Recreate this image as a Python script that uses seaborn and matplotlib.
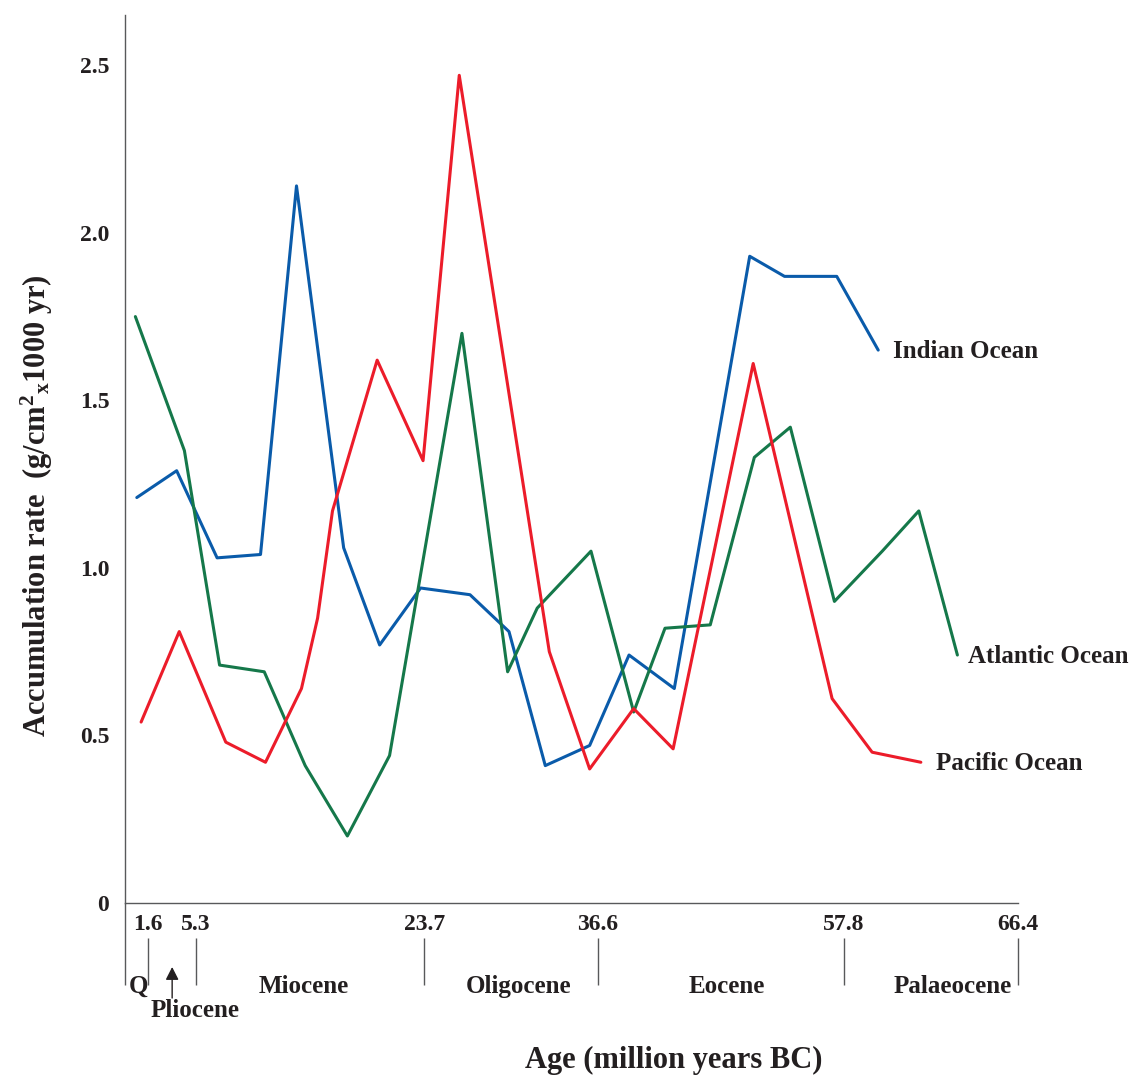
import numpy as np
import pandas as pd
import matplotlib
matplotlib.use("Agg")
import matplotlib.pyplot as plt
import seaborn as sns

# ---- data -------------------------------------------------------------
# Epoch boundaries (million years) and the stretched time scale used on the axis
boundaries = [0.0, 1.6, 5.3, 23.7, 36.6, 57.8, 66.4]
boundary_pos = [0.0, 23.0, 70.7, 299.0, 472.4, 718.4, 893.0]
tick_ages = [1.6, 5.3, 23.7, 36.6, 57.8, 66.4]
tick_labels = ["1.6", "5.3", "23.7", "36.6", "57.8", "66.4"]

y_ticks = [0, 0.5, 1.0, 1.5, 2.0, 2.5]
y_tick_labels = ["0", "0.5", "1.0", "1.5", "2.0", "2.5"]

indian_age = [0.8, 3.8, 7.0, 10.5, 13.4, 17.2, 20.1, 23.4, 27.1, 30.0,
              32.7, 36.0, 39.3, 43.2, 49.7, 52.7, 57.2, 59.5]
indian_rate = [1.21, 1.29, 1.03, 1.04, 2.14, 1.06, 0.77, 0.94, 0.92, 0.81,
               0.41, 0.47, 0.74, 0.64, 1.93, 1.87, 1.87, 1.65]

atlantic_age = [0.7, 4.4, 7.2, 10.8, 14.1, 17.5, 20.9, 26.5, 29.9, 32.1,
                36.1, 39.7, 42.4, 46.3, 50.1, 53.2, 57.0, 59.7, 61.5, 63.4]
atlantic_rate = [1.75, 1.35, 0.71, 0.69, 0.41, 0.20, 0.44, 1.70, 0.69, 0.88,
                 1.05, 0.57, 0.82, 0.83, 1.33, 1.42, 0.90, 1.05, 1.17, 0.74]

pacific_age = [1.1, 4.0, 7.7, 10.9, 13.8, 15.1, 16.3, 19.9, 23.6, 26.3,
               33.0, 36.0, 39.7, 43.1, 50.0, 56.8, 59.2, 61.6]
pacific_rate = [0.54, 0.81, 0.48, 0.42, 0.64, 0.85, 1.17, 1.62, 1.32, 2.47,
                0.75, 0.40, 0.58, 0.46, 1.61, 0.61, 0.45, 0.42]

oceans = ["Indian Ocean", "Atlantic Ocean", "Pacific Ocean"]
colors = {"Indian Ocean": "#0A5BAA", "Atlantic Ocean": "#15784A",
          "Pacific Ocean": "#EC1C2A"}

df = pd.concat([
    pd.DataFrame({"age": indian_age, "rate": indian_rate, "ocean": oceans[0]}),
    pd.DataFrame({"age": atlantic_age, "rate": atlantic_rate, "ocean": oceans[1]}),
    pd.DataFrame({"age": pacific_age, "rate": pacific_rate, "ocean": oceans[2]}),
], ignore_index=True)

# ---- style ------------------------------------------------------------
sns.set_style("white")
plt.rcParams["font.family"] = ["Liberation Serif", "DejaVu Serif"]
plt.rcParams["font.weight"] = "bold"
plt.rcParams["mathtext.default"] = "regular"

TEXT = "#231F20"
AXIS = "#58595B"

W, H, DPI = 1131, 1088, 100
fig = plt.figure(figsize=(W / DPI, H / DPI), dpi=DPI)
AX_H = 888.0
ax = fig.add_axes([125.3 / W, 185 / H, 893 / W, AX_H / H])

sns.lineplot(data=df, x="age", y="rate", hue="ocean", palette=colors,
             estimator=None, sort=False, linewidth=2.2, legend=False, ax=ax)


# stretched geological time axis
def _fwd(a):
    return np.interp(a, boundaries, boundary_pos)


def _inv(p):
    return np.interp(p, boundary_pos, boundaries)


ax.set_xscale("function", functions=(_fwd, _inv))
ax.set_xlim(0, 66.4)
ax.set_ylim(0, 2.65)

ax.set_xticks(tick_ages)
ax.set_xticklabels(tick_labels)
ax.set_yticks(y_ticks)
ax.set_yticklabels(y_tick_labels)
ax.set_xlabel("")
ax.set_ylabel("")

ax.tick_params(axis="x", direction="in", length=5.8, width=0.8, color=AXIS,
               pad=8.2, labelsize=17, labelcolor=TEXT)
ax.tick_params(axis="y", direction="in", length=6.5, width=0.8, color=AXIS,
               pad=11.5, labelsize=17, labelcolor=TEXT)
for lab in ax.get_xticklabels() + ax.get_yticklabels():
    lab.set_fontweight("bold")

for side in ("top", "right"):
    ax.spines[side].set_visible(False)
for side in ("left", "bottom"):
    ax.spines[side].set_color(AXIS)
    ax.spines[side].set_linewidth(1.0)


def below(px):
    """Axes-fraction height for a distance in pixels under the time axis."""
    return -px / AX_H


xt = ax.get_xaxis_transform()
# epoch boundary markers under the axis
ax.vlines([0.0], below(82), 0, transform=xt, colors=AXIS, lw=1.0, clip_on=False)
ax.vlines(boundaries[1:], below(35), below(82), transform=xt, colors=AXIS,
          lw=1.0, clip_on=False)

epochs = [("Q", 0.9, 89.7, "center"),
          ("Miocene", 14.0, 89.7, "center"),
          ("Oligocene", 30.7, 89.7, "center"),
          ("Eocene", 47.7, 89.7, "center"),
          ("Palaeocene", 66.1, 89.7, "right"),
          ("Pliocene", 5.2, 113.7, "center")]
for name, age, dy, ha in epochs:
    ax.text(age, below(dy), name, transform=xt, ha=ha, va="baseline",
            fontsize=18, fontweight="bold", color=TEXT, clip_on=False)

ax.annotate("", xy=(3.45, below(64)), xytext=(3.45, below(95)),
            xycoords=xt, textcoords=xt,
            arrowprops=dict(arrowstyle="-|>,head_length=0.55,head_width=0.28",
                            color=TEXT, lw=1.0, mutation_scale=14,
                            shrinkA=0, shrinkB=0))

# series names at the end of each line
label_offsets = {"Indian Ocean": (15, -7.5), "Atlantic Ocean": (11, -8),
                 "Pacific Ocean": (15, -7.5)}
ends = {"Indian Ocean": (indian_age[-1], indian_rate[-1]),
        "Atlantic Ocean": (atlantic_age[-1], atlantic_rate[-1]),
        "Pacific Ocean": (pacific_age[-1], pacific_rate[-1])}
for name in oceans:
    ax.annotate(name, xy=ends[name], xytext=label_offsets[name],
                textcoords="offset pixels", ha="left", va="baseline",
                fontsize=18, fontweight="bold", color=TEXT,
                annotation_clip=False)

fig.text(674 / W, 1 - 1060 / H, "Age (million years BC)", ha="center",
         va="center", fontsize=22, fontweight="bold", color=TEXT)
fig.text(37 / W, 1 - 506 / H,
         "Accumulation rate  (g/cm$^{2}$$_{x}$1000 yr)", rotation=90,
         ha="center", va="center", fontsize=22, fontweight="bold", color=TEXT)

fig.savefig("out.png", dpi=DPI)
